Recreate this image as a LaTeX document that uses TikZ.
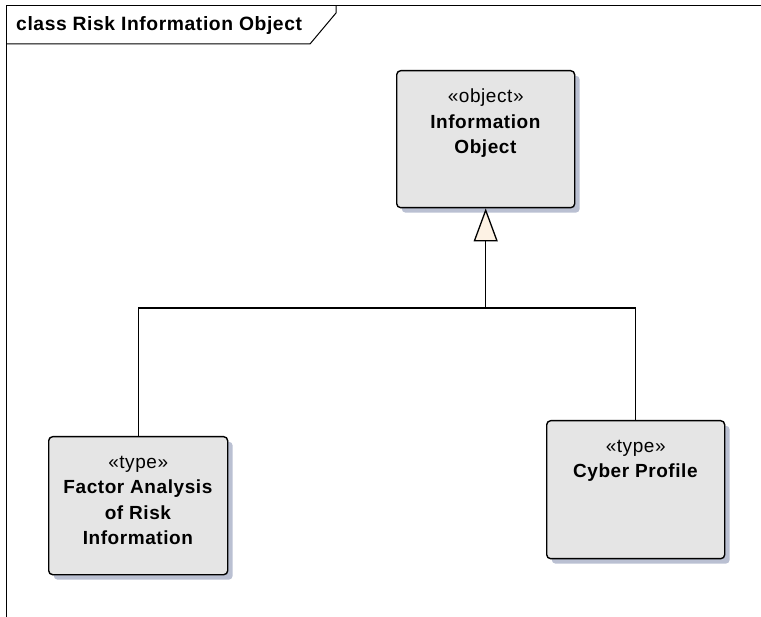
\documentclass[tikz,border=0pt]{standalone}
\usepackage{fontspec}
\setmainfont{Liberation Sans}
\newfontfamily\boxfont[LetterSpace=3]{Liberation Sans}
\newfontfamily\titlefont[LetterSpace=3]{Liberation Sans}
\usetikzlibrary{shadows,arrows.meta}
\definecolor{boxfill}{RGB}{229,229,229}
\definecolor{shadowcol}{RGB}{186,192,210}
\definecolor{cream}{RGB}{253,242,228}
\tikzset{
  umlbox/.style={draw=black, line width=1.4pt, rounded corners=4pt, fill=boxfill,
    drop shadow={shadow xshift=5pt, shadow yshift=-5pt, fill=shadowcol, opacity=1},
    inner sep=0pt},
  boxtext/.style={align=center, font=\boxfont\fontsize{19}{25.3}\selectfont, inner sep=0pt, anchor=north},
  conn/.style={line width=1.3pt, black},
  gen/.style={conn, -{Triangle[open, fill=cream, length=33pt, width=24pt, line width=1.3pt]}},
  framestyle/.style={line width=1pt, black}
}
\begin{document}
\begin{tikzpicture}[x=1pt,y=-1pt]
\useasboundingbox (0,0) rectangle (761,617);
% frame
\draw[framestyle] (6,617) -- (6,6) -- (761,6);
\draw[framestyle] (6,44) -- (310,44) -- (336,13) -- (336,6);
\node[anchor=west, inner sep=0pt, font=\titlefont\fontsize{19.3}{23}\selectfont\bfseries] (title) at (16,26) {class Risk Information Object};
% boxes
\node[umlbox, minimum width=178pt, minimum height=137pt, anchor=north west] (io) at (396,70) {};
\node[boxtext] (iot) at ([yshift=-19pt]io.north) {«object»\\\textbf{Information}\\\textbf{Object}};
\node[umlbox, minimum width=179pt, minimum height=138pt, anchor=north west] (fa) at (48,436) {};
\node[boxtext] (fat) at ([yshift=-20pt]fa.north) {«type»\\\textbf{Factor Analysis}\\\textbf{of Risk}\\\textbf{Information}};
\node[umlbox, minimum width=178pt, minimum height=138pt, anchor=north west] (cp) at (546,420) {};
\node[boxtext] (cpt) at ([yshift=-20pt]cp.north) {«type»\\\textbf{Cyber Profile}};
% connectors
\coordinate (j) at (io.south |- 0,308);
\draw[conn] (fa.north) |- (j) -| (cp.north);
\draw[gen] (j) -- (io.south);
\end{tikzpicture}
\end{document}
